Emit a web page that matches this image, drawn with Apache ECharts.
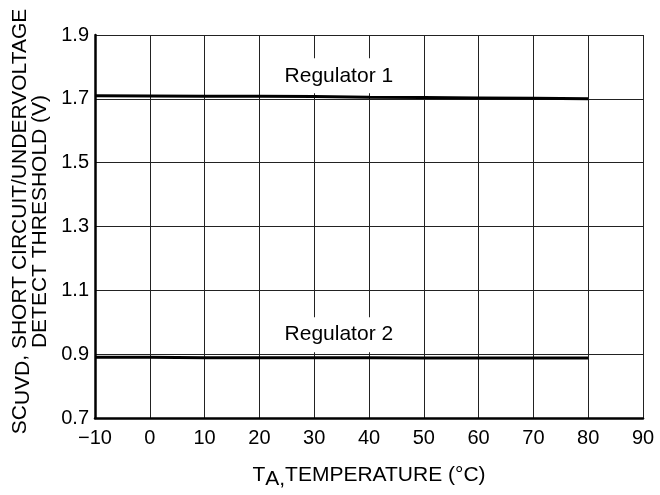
<!DOCTYPE html>
<html><head><meta charset="utf-8">
<script src="https://cdn.jsdelivr.net/npm/echarts@6/dist/echarts.min.js"></script>
<style>html,body{margin:0;padding:0;background:#fff;overflow:hidden}#c{width:660px;height:495px}</style>
</head><body><div id="c"></div>
<script>
const temps = [-10, 0, 10, 20, 30, 40, 50, 60, 70, 80];
const regulator1 = [1.710, 1.709, 1.708, 1.708, 1.707, 1.705, 1.704, 1.703, 1.702, 1.700];
const regulator2 = [0.890, 0.890, 0.889, 0.889, 0.889, 0.889, 0.888, 0.888, 0.888, 0.888];
const seriesNames = ['Regulator 1', 'Regulator 2'];
const labelPos = [[34.5, 1.772], [34.5, 0.961]];

const FONT = '"Liberation Sans", Arial, sans-serif';
const chart = echarts.init(document.getElementById('c'), null, {renderer: 'canvas'});
function pairs(ys){ return temps.map((t,i)=>[t, ys[i]]); }
function mk(name, ys, lp){
  return {
    name, type:'line', data: pairs(ys), showSymbol:false, symbol:'none',
    lineStyle:{color:'#000', width:3}, z:5,
    markPoint:{
      symbol:'rect', symbolSize:0,
      data:[{coord: lp}],
      label:{show:true, formatter:name, color:'#000', fontSize:21, fontFamily:FONT,
             backgroundColor:'#fff', padding:[7,3,7,3]}
    }
  };
}
const nameRich = {
  n:{fontSize:21, fontFamily:FONT, color:'#000', lineHeight:20},
  s:{fontSize:21, fontFamily:FONT, color:'#000', lineHeight:20, verticalAlign:'bottom', padding:[0,0,-4,0]},
  x:{fontSize:21, fontFamily:FONT, color:'#000', lineHeight:20, verticalAlign:'bottom', padding:[0,0,-5,0]}
};
chart.setOption({
  animation:false,
  grid:{left:95, width:548, top:35, height:384, containLabel:false},
  xAxis:{
    type:'value', min:-10, max:90, interval:10,
    axisLine:{show:true, onZero:false, lineStyle:{color:'#000', width:2.5}},
    axisTick:{show:false},
    splitLine:{show:true, lineStyle:{color:'#222', width:1}},
    axisLabel:{color:'#000', fontSize:20, fontFamily:FONT, margin:10,
      formatter:v=>String(v).replace('-', '\u2212')},
    name:'{n|T}{x|A,}{n|TEMPERATURE (°C)}', nameLocation:'middle', nameGap:47,
    nameTextStyle:{color:'#000', fontFamily:FONT, rich:nameRich}
  },
  yAxis:{
    type:'value', min:0.7, max:1.9, interval:0.2,
    axisLine:{show:true, onZero:false, lineStyle:{color:'#000', width:2.5}},
    axisTick:{show:false},
    splitLine:{show:true, lineStyle:{color:'#222', width:1}},
    axisLabel:{color:'#000', fontSize:20, fontFamily:FONT, margin:6,
      formatter:v=>v.toFixed(1)},
    name:'{n|SC}{s|UVD}{n|, SHORT CIRCUIT/UNDERVOLTAGE}\n{n|DETECT THRESHOLD (V)}',
    nameLocation:'middle', nameGap:43,
    nameTextStyle:{color:'#000', fontFamily:FONT, align:'center', padding:[0,0,0,10], rich:nameRich}
  },
  series:[mk(seriesNames[0], regulator1, labelPos[0]), mk(seriesNames[1], regulator2, labelPos[1])]
});
</script></body></html>
